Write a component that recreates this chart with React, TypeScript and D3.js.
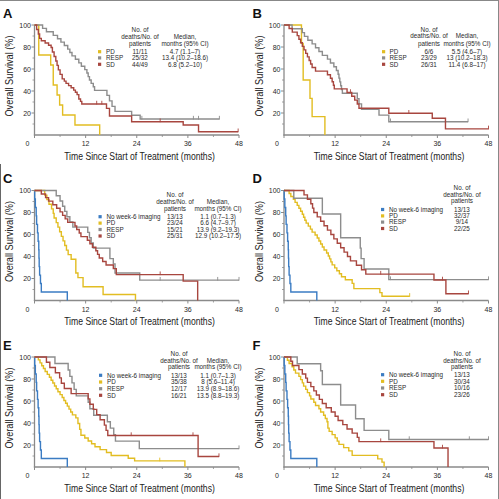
import React from 'react';
import * as d3 from 'd3';

type Step = [number, number];

// ---------------- data ----------------
const groupNames = ['No week-6 imaging', 'PD', 'RESP', 'SD'];
const xTicks = [0, 12, 24, 36, 48];
const xMinorTicks = [6, 18, 30, 42];
const yTicks = [20, 40, 60, 80, 100];
const yMinorTicks = [10, 30, 50, 70, 90];
const countHeader = ['No. of', 'deaths/No. of', 'patients'];
const medianHeader = ['Median,', 'months (95% CI)'];
const xTitle = 'Time Since Start of Treatment (months)';
const yTitle = 'Overall Survival (%)';

// Panel A
const aPD: Step[] = [[1.0, 72.7], [3.8, 63.6], [4.4, 45.5], [5.3, 36.4], [5.9, 27.3], [6.6, 18.2], [9.5, 9.1], [15.3, 0]];
const aRESP: Step[] = [[1.9, 96.9], [2.8, 93.8], [4.4, 90.6], [5.4, 87.5], [6.2, 84.4], [7.0, 81.3], [7.8, 78.1], [8.3, 75.0], [8.8, 71.9], [9.6, 68.8], [10.4, 65.6], [11.0, 62.5], [11.8, 59.4], [12.3, 56.3], [12.6, 53.1], [12.9, 50.0], [13.3, 46.9], [13.8, 43.8], [14.1, 40.6], [17.0, 36.0], [17.6, 31.0], [18.2, 26.0], [18.9, 21.5], [22.8, 18.0], [24.8, 14.5]];
const aRESPCens = [25.2, 37.3, 38.5, 43.4];
const aSD: Step[] = [[0.5, 95.9], [0.9, 91.8], [1.2, 87.8], [1.6, 85.7], [2.5, 83.7], [3.3, 81.6], [3.9, 79.6], [4.2, 75.5], [4.6, 71.4], [5.0, 67.3], [5.3, 63.3], [5.6, 59.2], [6.0, 55.1], [6.5, 51.0], [7.0, 49.0], [7.4, 46.9], [8.0, 44.9], [8.6, 42.9], [9.2, 40.8], [9.6, 38.8], [10.0, 36.7], [10.4, 32.7], [10.8, 30.6], [11.1, 28.2], [16.9, 24.2], [17.6, 17.3], [22.8, 12.1], [34.9, 9.1], [38.5, 3.0]];
const aSDCens = [14.6, 15.8, 29.5, 47.8];
const aCounts = ['11/11', '25/32', '44/49'];
const aMedians = ['4.7 (1.1–7)', '13.4 (10.2–18.6)', '6.8 (5.2–10)'];

// Panel B
const bPD: Step[] = [[4.1, 83.3], [4.5, 50.0], [6.1, 33.3], [6.6, 16.7], [9.6, 0]];
const bRESP: Step[] = [[1.9, 96.6], [4.3, 93.1], [4.8, 89.7], [5.6, 86.2], [6.6, 82.8], [7.4, 79.3], [8.2, 75.9], [9.0, 72.4], [10.2, 69.0], [10.9, 65.5], [11.7, 62.1], [12.3, 58.6], [12.7, 55.2], [12.9, 51.7], [13.1, 48.3], [13.3, 44.8], [13.5, 41.4], [13.7, 37.9], [17.2, 33.1], [17.6, 28.3], [18.2, 23.4], [22.3, 18.1], [24.6, 12.1]];
const bRESPCens = [25.0, 43.2];
const bSD: Step[] = [[1.2, 96.8], [1.95, 93.5], [3.1, 90.3], [3.5, 87.1], [3.9, 83.9], [4.3, 80.6], [4.7, 77.4], [5.1, 74.2], [5.5, 71.0], [5.9, 67.7], [6.25, 64.5], [6.6, 61.3], [7.4, 58.1], [10.2, 54.8], [10.9, 51.6], [11.3, 48.4], [11.6, 45.2], [11.8, 41.9], [14.8, 38.7], [15.9, 35.2], [16.6, 31.7], [17.2, 28.2], [17.6, 24.3], [24.6, 19.8], [34.8, 15.2], [37.9, 5.6]];
const bSDCens = [15.6, 29.3, 48];
const bCounts = ['6/6', '23/29', '26/31'];
const bMedians = ['5.5 (4.6–7)', '13 (10.2–18.3)', '11.4 (6.8–17)'];

// No week-6 imaging group (C–F)
const noImaging: Step[] = [[0.05, 92.3], [0.2, 84.6], [0.4, 76.9], [0.5, 69.2], [0.7, 61.5], [0.85, 53.8], [1.0, 46.2], [1.05, 38.5], [1.1, 30.8], [1.2, 23.1], [1.4, 15.4], [1.6, 7.7], [7.7, 0]];

// Panel C
const cPD: Step[] = [[2.4, 95.8], [2.9, 91.7], [3.4, 87.5], [4.0, 83.3], [4.4, 79.2], [4.6, 75.0], [5.1, 70.8], [5.5, 66.7], [5.9, 62.5], [6.3, 58.3], [6.7, 54.2], [7.1, 50.0], [7.5, 45.8], [7.9, 41.7], [8.6, 37.5], [9.7, 25.0], [10.2, 20.8], [11.4, 12.5], [16.1, 5.5], [23.7, 0]];
const cRESP: Step[] = [[5.1, 95.2], [6.0, 90.5], [6.6, 85.7], [7.1, 81.0], [7.6, 76.2], [8.3, 71.4], [9.0, 66.7], [12.5, 61.9], [12.9, 57.1], [13.3, 52.4], [13.8, 47.6], [17.7, 38.1], [18.5, 33.3], [18.9, 25.0], [24.7, 18.5]];
const cRESPCens = [29.5, 43.0, 48];
const cSD: Step[] = [[1.6, 96.8], [2.6, 93.5], [3.3, 90.3], [4.3, 87.1], [5.2, 83.9], [6.0, 80.6], [6.6, 77.4], [7.2, 74.2], [7.8, 71.0], [9.5, 67.7], [9.9, 64.5], [10.5, 61.3], [10.9, 58.1], [12.4, 54.8], [13.0, 51.6], [13.6, 48.4], [14.4, 45.2], [14.8, 41.9], [15.2, 38.7], [16.0, 35.5], [16.8, 32.3], [18.5, 29.0], [19.2, 23.5], [34.9, 17.6], [38.3, 0]];
const cSDCens = [29.5];
const cCounts = ['13/13', '23/24', '15/21', '25/31'];
const cMedians = ['1.1 (0.7–1.3)', '6.6 (4.7–9.7)', '13.9 (9.2–19.3)', '12.9 (10.2–17.5)'];

// Panel D
const dPD: Step[] = [[1.2, 97.3], [1.6, 94.6], [2.2, 91.9], [2.6, 89.2], [3.1, 86.5], [3.5, 83.8], [3.9, 81.1], [4.3, 78.4], [4.6, 75.7], [4.9, 73.0], [5.2, 70.3], [5.7, 67.6], [6.2, 64.9], [6.6, 62.2], [7.3, 59.5], [7.8, 56.8], [8.2, 54.1], [8.6, 51.4], [9.0, 48.6], [9.4, 45.9], [10.0, 43.2], [10.4, 40.5], [10.7, 37.8], [11.0, 35.1], [11.3, 32.4], [11.9, 29.7], [12.4, 27.0], [13.0, 24.3], [13.5, 21.6], [14.4, 18.9], [16.0, 15.6], [16.4, 10.8], [22.5, 7.2], [23.0, 3.8]];
const dPDCens = [29.5];
const dRESP: Step[] = [[2.3, 92.9], [9.0, 78.6], [13.3, 57.1], [17.9, 47.6], [18.1, 38.1], [18.8, 28.6], [24.6, 19.0]];
const dRESPCens = [25.0, 48];
const dSD: Step[] = [[4.7, 96], [5.5, 92], [6.3, 88], [6.7, 84], [7.0, 80], [7.8, 76], [8.6, 72], [9.4, 68], [10.2, 64], [11.0, 60], [11.7, 56], [12.5, 52], [13.3, 48], [14.1, 44], [14.9, 40], [15.6, 36], [17.0, 32], [18.2, 28], [19.2, 24], [35.2, 18.7], [38.0, 6.2]];
const dSDCens = [22.7, 37.2, 43.3];
const dCounts = ['13/13', '32/37', '9/14', '22/25'];

// Panel E
const ePD: Step[] = [[0.9, 97.4], [1.3, 94.7], [1.7, 92.1], [2.1, 89.5], [2.5, 86.8], [3.0, 84.2], [3.5, 81.6], [3.9, 78.9], [4.3, 76.3], [4.7, 73.7], [5.1, 71.1], [5.5, 68.4], [6.0, 65.8], [6.5, 63.2], [6.9, 60.5], [7.3, 57.9], [7.7, 55.3], [8.1, 52.6], [8.5, 50.0], [8.9, 47.4], [9.7, 44.7], [10.2, 39.5], [10.6, 34.2], [10.9, 28.9], [11.8, 26.3], [12.6, 23.7], [13.4, 21.1], [14.2, 18.4], [15.4, 15.8], [16.9, 13.2], [18.0, 10.5], [22.0, 7.9], [23.5, 5.6], [35.3, 0]];
const ePDCens = [29.4];
const eRESP: Step[] = [[4.8, 94.1], [7.9, 88.2], [8.3, 82.4], [8.8, 76.5], [9.3, 70.6], [9.8, 64.7], [12.6, 58.8], [13.0, 52.9], [13.9, 47.1], [17.1, 41.2], [17.8, 35.3], [18.6, 29.4], [19.0, 23.5], [24.6, 16.7]];
const eRESPCens = [48];
const eSD: Step[] = [[2.8, 95.2], [3.6, 90.5], [4.9, 85.7], [5.9, 81.0], [6.3, 76.2], [7.0, 71.4], [8.6, 66.7], [12.6, 61.9], [13.0, 57.1], [13.8, 52.4], [14.6, 47.6], [15.4, 42.9], [16.4, 38.1], [16.8, 33.3], [17.2, 28.6], [38.4, 9.5]];
const eSDCens = [22.7, 37.2, 43.3];
const eCounts = ['13/13', '35/38', '12/17', '16/21'];
const eMedians = ['1.1 (0.7–1.3)', '8 (5.6–11.4)', '13.9 (8.9–18.6)', '13.5 (8.8–19.3)'];

// Panel F
const fPD: Step[] = [[0.8, 97.1], [1.2, 94.1], [1.9, 91.2], [2.3, 88.2], [2.7, 85.3], [3.5, 82.4], [3.9, 79.4], [4.3, 76.5], [4.6, 73.5], [5.1, 70.6], [5.5, 67.6], [6.0, 64.7], [6.3, 61.8], [7.0, 58.8], [7.4, 55.9], [8.2, 52.9], [8.6, 50.0], [9.3, 47.1], [9.7, 44.1], [10.1, 41.2], [10.3, 35.3], [10.6, 32.4], [11.3, 29.4], [12.0, 26.5], [12.5, 23.5], [12.9, 20.6], [14.0, 17.6], [15.2, 14.7], [16.0, 10.6], [22.0, 7.4], [23.0, 4.4], [23.5, 0]];
const fRESP: Step[] = [[3.1, 93.8], [8.6, 87.5], [9.0, 75.0], [13.3, 56.3], [16.8, 43.8], [18.8, 33.3], [24.6, 25.0]];
const fRESPCens = [29.4, 43.5, 48];
const fSD: Step[] = [[1.6, 96.2], [2.0, 92.3], [3.5, 88.5], [4.3, 84.6], [5.1, 80.8], [5.5, 76.9], [6.3, 73.1], [7.0, 69.2], [7.6, 65.4], [8.3, 61.5], [9.0, 57.7], [9.9, 53.8], [11.1, 50.0], [12.0, 46.2], [12.7, 42.3], [13.8, 38.5], [14.8, 34.6], [16.0, 30.8], [17.2, 26.9], [17.6, 23.1], [35.2, 17.3], [38.5, 0]];
const fSDCens = [22.7, 37.2];
const fCounts = ['13/13', '30/34', '10/16', '23/26'];

// ---------------- styling / layout ----------------
const COLORS: Record<string, string> = {
  'No week-6 imaging': '#3b7cc3',
  PD: '#e2bd22',
  RESP: '#8d8d8d',
  SD: '#a8463f',
};
const FONT = "'Liberation Sans', Arial, Helvetica, sans-serif";
const AXIS_COLOR = '#8a8a8a';
const TEXT_COLOR = '#2a2a2a';

interface Series { group: string; steps: Step[]; end: number; censor: number[]; }
interface Legend {
  sqX: number; textX: number; rows: number[]; header: number[];
  countX: number; medianX?: number; counts: string[]; medians?: string[];
}
interface PanelDef { letter: string; ox: number; oy: number; series: Series[]; legend: Legend; }

const lastT = (s: Step[]) => s[s.length - 1][0];

const panels: PanelDef[] = [
  {
    letter: 'A', ox: 0, oy: 0,
    series: [
      { group: 'PD', steps: aPD, end: lastT(aPD), censor: [] },
      { group: 'RESP', steps: aRESP, end: 43.4, censor: aRESPCens },
      { group: 'SD', steps: aSD, end: 47.8, censor: aSDCens },
    ],
    legend: { sqX: 98, textX: 106, rows: [51.7, 57.9, 64.3], header: [30, 37, 44], countX: 140, medianX: 185, counts: aCounts, medians: aMedians },
  },
  {
    letter: 'B', ox: 249.5, oy: 0,
    series: [
      { group: 'PD', steps: bPD, end: lastT(bPD), censor: [] },
      { group: 'RESP', steps: bRESP, end: 43.2, censor: bRESPCens },
      { group: 'SD', steps: bSD, end: 48, censor: bSDCens },
    ],
    legend: { sqX: 132.5, textX: 140, rows: [51.7, 57.9, 64.3], header: [29.3, 36, 43.3], countX: 179.5, medianX: 217.5, counts: bCounts, medians: bMedians },
  },
  {
    letter: 'C', ox: 0, oy: 165.5,
    series: [
      { group: 'No week-6 imaging', steps: noImaging, end: lastT(noImaging), censor: [] },
      { group: 'PD', steps: cPD, end: lastT(cPD), censor: [] },
      { group: 'RESP', steps: cRESP, end: 48, censor: cRESPCens },
      { group: 'SD', steps: cSD, end: lastT(cSD), censor: cSDCens },
    ],
    legend: { sqX: 98.5, textX: 106.5, rows: [51.2, 57.6, 64.0, 70.5], header: [29.5, 36.2, 43.2], countX: 175, medianX: 218, counts: cCounts, medians: cMedians },
  },
  {
    letter: 'D', ox: 249.5, oy: 165.5,
    series: [
      { group: 'No week-6 imaging', steps: noImaging, end: lastT(noImaging), censor: [] },
      { group: 'PD', steps: dPD, end: 29.5, censor: dPDCens },
      { group: 'RESP', steps: dRESP, end: 48, censor: dRESPCens },
      { group: 'SD', steps: dSD, end: 43.3, censor: dSDCens },
    ],
    legend: { sqX: 131.5, textX: 139.5, rows: [44, 50.4, 56.6, 63], header: [22.3, 29, 35.6], countX: 212.5, counts: dCounts },
  },
  {
    letter: 'E', ox: 0, oy: 332,
    series: [
      { group: 'No week-6 imaging', steps: noImaging, end: lastT(noImaging), censor: [] },
      { group: 'PD', steps: ePD, end: lastT(ePD), censor: ePDCens },
      { group: 'RESP', steps: eRESP, end: 48, censor: eRESPCens },
      { group: 'SD', steps: eSD, end: 43.3, censor: eSDCens },
    ],
    legend: { sqX: 99, textX: 107, rows: [43.3, 50, 56.7, 63.3], header: [21.7, 28.3, 35], countX: 179, medianX: 218, counts: eCounts, medians: eMedians },
  },
  {
    letter: 'F', ox: 249.5, oy: 332,
    series: [
      { group: 'No week-6 imaging', steps: noImaging, end: lastT(noImaging), censor: [] },
      { group: 'PD', steps: fPD, end: lastT(fPD), censor: [] },
      { group: 'RESP', steps: fRESP, end: 48, censor: fRESPCens },
      { group: 'SD', steps: fSD, end: lastT(fSD), censor: fSDCens },
    ],
    legend: { sqX: 131.5, textX: 139.5, rows: [42.7, 49.3, 56, 62.7], header: [21.7, 28.3, 35], countX: 212.5, counts: fCounts },
  },
];

const survAt = (steps: Step[], t: number) => {
  let s = 100;
  for (const [tt, ss] of steps) if (tt <= t + 1e-9) s = ss;
  return s;
};

function Panel({ p }: { p: PanelDef }) {
  const x = d3.scaleLinear().domain([0, 48]).range([34.5, 239]);
  const y = d3.scaleLinear().domain([0, 100]).range([135, 25]);
  const line = d3.line<Step>().x(d => x(d[0])).y(d => y(d[1])).curve(d3.curveStepAfter);
  const lg = p.legend;
  const legendGroups = p.series.map(s => s.group);
  const fs = 6.3;
  return (
    <g transform={`translate(${p.ox},${p.oy})`} fontFamily={FONT}>
      <text x={3} y={17.5} fontSize={13} fontWeight="bold" fill="#111">{p.letter}</text>
      {/* axes */}
      <line x1={x(0)} x2={x(0)} y1={y(0) + 0.6} y2={y(100)} stroke={AXIS_COLOR} strokeWidth={1.3} />
      <line x1={x(0) - 0.6} x2={x(48)} y1={y(0)} y2={y(0)} stroke={AXIS_COLOR} strokeWidth={1.3} />
      {yTicks.map(t => (
        <g key={'yt' + t}>
          <line x1={x(0) - 3} x2={x(0)} y1={y(t)} y2={y(t)} stroke={AXIS_COLOR} strokeWidth={1} />
          <text x={x(0) - 3.5} y={y(t) + 2.5} fontSize={7} textAnchor="end" fill={TEXT_COLOR}>{t}</text>
        </g>
      ))}
      {yMinorTicks.map(t => (
        <line key={'ym' + t} x1={x(0) - 2} x2={x(0)} y1={y(t)} y2={y(t)} stroke={AXIS_COLOR} strokeWidth={0.8} />
      ))}
      {xTicks.map(t => (
        <g key={'xt' + t}>
          <line x1={x(t)} x2={x(t)} y1={y(0)} y2={y(0) + 3} stroke={AXIS_COLOR} strokeWidth={1} />
          <text x={t === 0 ? x(t) - 7 : x(t)} y={y(0) + 11} fontSize={7} textAnchor="middle" fill={TEXT_COLOR}>{t}</text>
        </g>
      ))}
      {xMinorTicks.map(t => (
        <line key={'xm' + t} x1={x(t)} x2={x(t)} y1={y(0)} y2={y(0) + 2} stroke={AXIS_COLOR} strokeWidth={0.8} />
      ))}
      <text transform="translate(139.5,159.5) scale(0.8,1)" fontSize={10.8} textAnchor="middle" fill="#222">{xTitle}</text>
      <text transform="translate(13,76) rotate(-90) scale(0.92,1)" fontSize={10} textAnchor="middle" fill="#222">{yTitle}</text>
      {/* curves */}
      {p.series.map(s => {
        const last = s.steps[s.steps.length - 1];
        const pts: Step[] = [[0, 100], ...s.steps];
        if (s.end > last[0]) pts.push([s.end, last[1]]);
        return (
          <g key={s.group}>
            <path d={line(pts) || ''} fill="none" stroke={COLORS[s.group]} strokeWidth={1.4} />
            {s.censor.map((c, i) => {
              const yy = y(survAt(s.steps, c));
              return <line key={i} x1={x(c)} x2={x(c)} y1={yy - 3.2} y2={yy + 0.5} stroke={COLORS[s.group]} strokeWidth={0.9} />;
            })}
          </g>
        );
      })}
      {/* legend */}
      {countHeader.map((h, i) => (
        <text key={'ch' + i} x={lg.countX} y={lg.header[i] + 2.2} fontSize={fs} textAnchor="middle" fill={TEXT_COLOR}>{h}</text>
      ))}
      {lg.medianX !== undefined && medianHeader.map((h, i) => (
        <text key={'mh' + i} x={lg.medianX} y={lg.header[i + 1] + 2.2} fontSize={fs} textAnchor="middle" fill={TEXT_COLOR}>{h}</text>
      ))}
      {legendGroups.map((g, i) => (
        <g key={'lg' + g}>
          <rect x={lg.sqX} y={lg.rows[i] - 1.6} width={3.2} height={3.2} fill={COLORS[g]} />
          <text x={lg.textX} y={lg.rows[i] + 2.2} fontSize={fs} fill={TEXT_COLOR}>{g === 'No week-6 imaging' ? groupNames[0] : g}</text>
          <text x={lg.countX} y={lg.rows[i] + 2.2} fontSize={fs} textAnchor="middle" fill={TEXT_COLOR}>{lg.counts[i]}</text>
          {lg.medians && (
            <text x={lg.medianX} y={lg.rows[i] + 2.2} fontSize={fs} textAnchor="middle" fill={TEXT_COLOR}>{lg.medians[i]}</text>
          )}
        </g>
      ))}
    </g>
  );
}

export default function App() {
  return (
    <svg width={499} height={499} style={{ position: 'absolute', left: 0, top: 0, background: '#fff' }}>
      <rect x={0} y={0} width={499} height={499} fill="#fff" />
      {panels.map(p => <Panel key={p.letter} p={p} />)}
      <line x1={0} x2={499} y1={0.5} y2={0.5} stroke="#888" strokeWidth={1} />
      <line x1={498.5} x2={498.5} y1={0} y2={499} stroke="#888" strokeWidth={1} />
      <line x1={0.5} x2={0.5} y1={164} y2={499} stroke="#666" strokeWidth={1} />
    </svg>
  );
}
